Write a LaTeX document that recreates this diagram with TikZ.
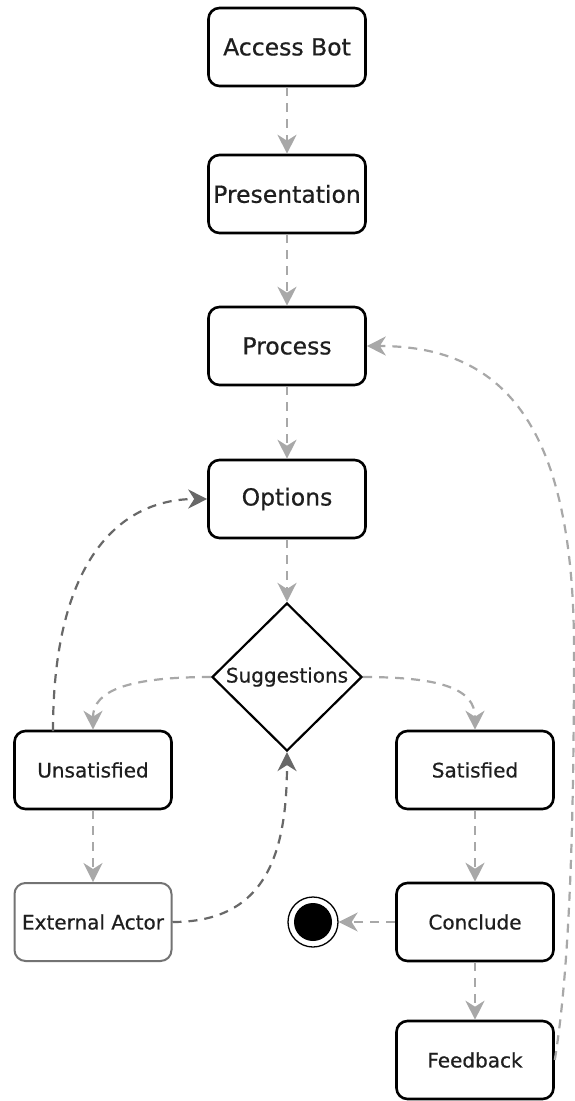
\documentclass[tikz,border=0pt]{standalone}
\usepackage{fontspec}
\setmainfont{DejaVu Sans}
\newfontfamily\medfont{DejaVu Sans}[FakeBold=0.6]
\usetikzlibrary{shapes.geometric,arrows.meta}
\definecolor{lightarrow}{HTML}{A8A8A8}
\definecolor{darkarrow}{HTML}{686868}
\definecolor{txt}{HTML}{1E1E1E}
\tikzset{
  bigbox/.style={draw=black, line width=2.6pt, rounded corners=11pt, fill=white,
    minimum width=157pt, minimum height=78pt, inner sep=0pt, text=txt,
    font=\medfont\fontsize{23.5pt}{27pt}\selectfont},
  smallbox/.style={bigbox, font=\medfont\fontsize{20pt}{23pt}\selectfont},
  greybox/.style={smallbox, draw=black!55, line width=2pt},
  decision/.style={draw=black, line width=2.2pt, shape=diamond, fill=white,
    minimum width=150pt, minimum height=148pt, inner sep=0pt, text=txt,
    font=\medfont\fontsize{20pt}{23pt}\selectfont},
  flow/.style={draw=lightarrow, line width=2.2pt, dash pattern=on 9pt off 7pt,
    -{Stealth[length=19pt, width=19pt, inset=6pt, fill=lightarrow]}},
  backflow/.style={flow, draw=darkarrow,
    -{Stealth[length=19pt, width=19pt, inset=6pt, fill=darkarrow]}},
}
\begin{document}
\begin{tikzpicture}[x=1pt, y=-1pt]
\useasboundingbox (0,0) rectangle (575,1101);

\node[bigbox] (access) at (287,47) {Access Bot};
\node[bigbox] (present) at (287,194) {Presentation};
\node[bigbox] (process) at (287,346) {Process};
\node[bigbox] (options) at (287,499) {Options};
\node[decision] (sugg) at (287,677) {Suggestions};
\node[smallbox] (unsat) at (93,770) {Unsatisfied};
\node[smallbox] (sat) at (475,770) {Satisfied};
\node[greybox] (ext) at (93,922) {External Actor};
\node[smallbox] (conclude) at (475,922) {Conclude};
\node[smallbox] (feedback) at (475,1060) {Feedback};
\node[circle, draw=black, line width=1.3pt, minimum size=50pt, inner sep=0pt] (endnode) at (313,922) {};
\node[circle, fill=black, minimum size=38pt, inner sep=0pt] (enddot) at (313,922) {};

\coordinate (unsatstart) at (53,731);
\coordinate (bend) at (574,650);

\draw[flow] (access) -- (present);
\draw[flow] (present) -- (process);
\draw[flow] (process) -- (options);
\draw[flow] (options) -- (sugg);
\draw[flow] (sugg.west) .. controls (130,677) and (93,690) .. (unsat.north);
\draw[flow] (sugg.east) .. controls (444,677) and (475,690) .. (sat.north);
\draw[flow] (unsat) -- (ext);
\draw[flow] (sat) -- (conclude);
\draw[flow] (conclude) -- (feedback);
\draw[flow] (conclude.west) -- (endnode.east);
\draw[backflow] (unsatstart) .. controls (53,560) and (120,499) .. (options.west);
\draw[backflow] (ext.east) .. controls (262,922) and (287,860) .. (sugg.south);
\draw[flow] (feedback.east) .. controls (566,990) and (574,880) .. (bend)
  .. controls (574,420) and (500,346) .. (process.east);
\end{tikzpicture}
\end{document}
